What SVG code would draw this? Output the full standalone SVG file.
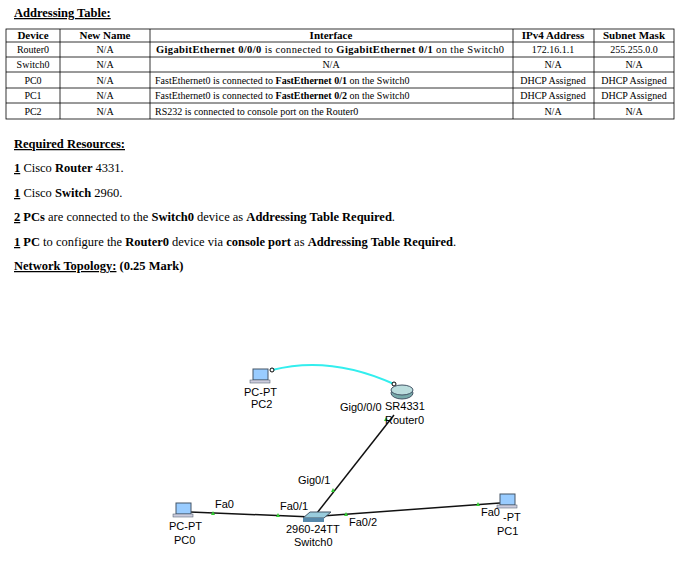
<svg xmlns="http://www.w3.org/2000/svg" width="680" height="561" viewBox="0 0 680 561">
<style>
.t{font-family:"Liberation Serif",serif;font-size:10px;fill:#000}
.h{font-family:"Liberation Serif",serif;font-size:11px;font-weight:bold}
.p{font-family:"Liberation Serif",serif;font-size:12.5px}
.a{font-family:"Liberation Sans",Arial,sans-serif;font-size:11px;fill:#000}
.g line{stroke:#000;stroke-width:0.8}
.link{stroke:#111;stroke-width:1.5;fill:none}
.tri{fill:#3c3}
</style>
<rect width="680" height="561" fill="#fff"/>
<text x="14" y="17" class="p" font-weight="bold" text-decoration="underline">Addressing Table:</text>
<g id="table">
<rect x="6" y="29" width="668" height="90" fill="none" stroke="#000" stroke-width="0.8"/>
<g class="g">
<line x1="6" y1="42" x2="674" y2="42"/><line x1="6" y1="57" x2="674" y2="57"/><line x1="6" y1="72" x2="674" y2="72"/><line x1="6" y1="88" x2="674" y2="88"/><line x1="6" y1="103" x2="674" y2="103"/>
<line x1="60" y1="29" x2="60" y2="119"/><line x1="150" y1="29" x2="150" y2="119"/><line x1="513" y1="29" x2="513" y2="119"/><line x1="594" y1="29" x2="594" y2="119"/>
</g>
<g text-anchor="middle">
<text class="h" x="33" y="39">Device</text><text class="h" x="105" y="39">New Name</text><text class="h" x="331" y="39">Interface</text><text class="h" x="553" y="39">IPv4 Address</text><text class="h" x="634" y="39">Subnet Mask</text>
<text class="t" x="33" y="53">Router0</text><text class="t" x="105" y="53">N/A</text><text class="t" x="553" y="53">172.16.1.1</text><text class="t" x="634" y="53">255.255.0.0</text>
<text class="t" x="33" y="68">Switch0</text><text class="t" x="105" y="68">N/A</text><text class="t" x="331" y="68">N/A</text><text class="t" x="553" y="68">N/A</text><text class="t" x="634" y="68">N/A</text>
<text class="t" x="33" y="84">PC0</text><text class="t" x="105" y="84">N/A</text><text class="t" x="553" y="84">DHCP Assigned</text><text class="t" x="634" y="84">DHCP Assigned</text>
<text class="t" x="33" y="99">PC1</text><text class="t" x="105" y="99">N/A</text><text class="t" x="553" y="99">DHCP Assigned</text><text class="t" x="634" y="99">DHCP Assigned</text>
<text class="t" x="33" y="115">PC2</text><text class="t" x="105" y="115">N/A</text><text class="t" x="553" y="115">N/A</text><text class="t" x="634" y="115">N/A</text>
</g>
<text class="t" x="156" y="53" style="font-size:10.5px" textLength="348" lengthAdjust="spacing"><tspan font-weight="bold">GigabitEthernet 0/0/0</tspan> is connected to <tspan font-weight="bold">GigabitEthernet 0/1</tspan> on the Switch0</text>
<text class="t" x="155" y="84">FastEthernet0 is connected to <tspan font-weight="bold">FastEthernet 0/1</tspan> on the Switch0</text>
<text class="t" x="155" y="99">FastEthernet0 is connected to <tspan font-weight="bold">FastEthernet 0/2</tspan> on the Switch0</text>
<text class="t" x="155" y="115">RS232 is connected to console port on the Router0</text>
</g>
<g class="p">
<text x="14" y="148" font-weight="bold" text-decoration="underline">Required Resources:</text>
<text x="14" y="172"><tspan font-weight="bold" text-decoration="underline">1</tspan> Cisco <tspan font-weight="bold">Router</tspan> 4331.</text>
<text x="14" y="197"><tspan font-weight="bold" text-decoration="underline">1</tspan> Cisco <tspan font-weight="bold">Switch</tspan> 2960.</text>
<text x="14" y="221" textLength="381" lengthAdjust="spacingAndGlyphs"><tspan font-weight="bold" text-decoration="underline">2</tspan> <tspan font-weight="bold">PCs</tspan> are connected to the <tspan font-weight="bold">Switch0</tspan> device as <tspan font-weight="bold">Addressing Table Required</tspan>.</text>
<text x="14" y="246" textLength="442" lengthAdjust="spacingAndGlyphs"><tspan font-weight="bold" text-decoration="underline">1</tspan> <tspan font-weight="bold">PC</tspan> to configure the <tspan font-weight="bold">Router0</tspan> device via <tspan font-weight="bold">console port</tspan> as <tspan font-weight="bold">Addressing Table Required</tspan>.</text>
<text x="14" y="270" font-weight="bold"><tspan text-decoration="underline">Network Topology:</tspan> (0.25 Mark)</text>
</g>
<g id="connectors">
<path d="M272 370 Q330 355 394 384" stroke="#3ee" stroke-width="2" fill="none"/>
<circle cx="272" cy="370" r="2" fill="#fff" stroke="#000"/><circle cx="394" cy="384" r="2" fill="#fff" stroke="#000"/>
<line class="link" x1="190" y1="512" x2="312" y2="517"/>
<line class="link" x1="317" y1="513" x2="394" y2="415"/>
<line class="link" x1="322" y1="516" x2="500" y2="503"/>
<polygon class="tri" points="211,515 215,515 213,511"/>
<polygon class="tri" points="276,517 280,517 278,513"/>
<polygon class="tri" points="331,492 335,492 333,488"/>
<polygon class="tri" points="384,421 388,421 386,417"/>
<polygon class="tri" points="344,516 348,516 346,512"/>
<polygon class="tri" points="476,506 480,506 478,502"/>
</g>
<g id="PC2"><rect x="253" y="369" width="15" height="11" fill="#9cf" stroke="#456"/><rect x="250" y="380" width="20" height="3" fill="#ccd" stroke="#456" stroke-width="0.5"/><text class="a" x="244" y="396">PC-PT</text><text class="a" x="251" y="408">PC2</text></g>
<g id="Router0"><ellipse cx="402" cy="393" rx="11" ry="6" fill="#7aa" stroke="#456"/><ellipse cx="402" cy="390" rx="11" ry="5" fill="#bdd" stroke="#456"/><text class="a" x="385" y="410">SR4331</text><text class="a" x="385" y="424">Router0</text><text class="a" x="340" y="411">Gig0/0/0</text></g>
<g id="Switch0"><polygon points="303,518 310,512 331,512 324,518" fill="#9cd" stroke="#456"/><rect x="303" y="518" width="21" height="4" fill="#58a"/><text class="a" x="286" y="533">2960-24TT</text><text class="a" x="294" y="546">Switch0</text><text class="a" x="298" y="484">Gig0/1</text><text class="a" x="280" y="510">Fa0/1</text><text class="a" x="349" y="526">Fa0/2</text></g>
<g id="PC0"><rect x="176" y="503" width="15" height="11" fill="#9cf" stroke="#456"/><rect x="173" y="514" width="20" height="3" fill="#ccd" stroke="#456" stroke-width="0.5"/><text class="a" x="169" y="530">PC-PT</text><text class="a" x="174" y="544">PC0</text><text class="a" x="215" y="508">Fa0</text></g>
<g id="PC1"><rect x="500" y="494" width="15" height="11" fill="#9cf" stroke="#456"/><rect x="497" y="505" width="20" height="3" fill="#ccd" stroke="#456" stroke-width="0.5"/><text class="a" x="503" y="521">-PT</text><text class="a" x="497" y="535">PC1</text><text class="a" x="481" y="516">Fa0</text></g>
</svg>
